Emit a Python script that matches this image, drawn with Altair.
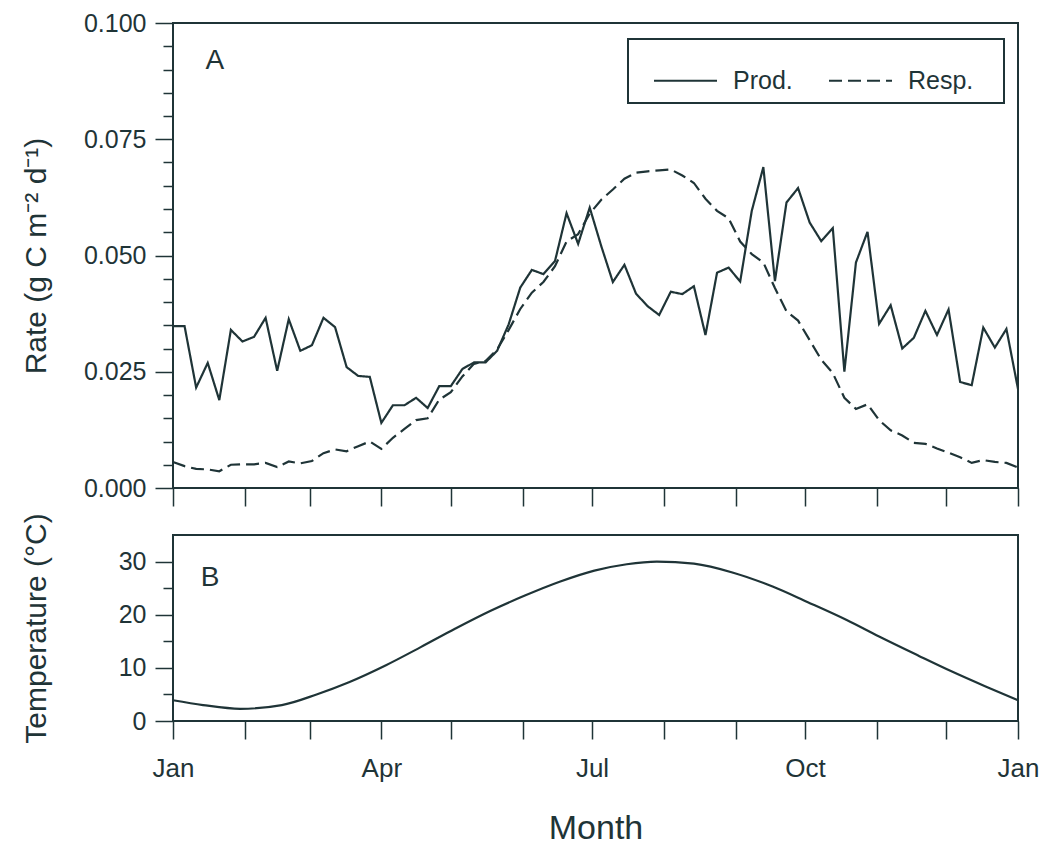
import altair as alt
import pandas as pd

INK = "#1f3437"
FONT = "Liberation Sans"

# Panel A: production and respiration, one value every 5 days (day 0 .. 365)
prod = [0.0348, 0.0348, 0.0216, 0.0269, 0.0189, 0.0340, 0.0315, 0.0325, 0.0366, 0.0252,
        0.0363, 0.0295, 0.0307, 0.0366, 0.0346, 0.0260, 0.0241, 0.0239, 0.0140, 0.0178,
        0.0178, 0.0194, 0.0172, 0.0219, 0.0219, 0.0256, 0.0270, 0.0270, 0.0295, 0.0352,
        0.0431, 0.0469, 0.0460, 0.0488, 0.0591, 0.0525, 0.0603, 0.0520, 0.0443, 0.0480,
        0.0418, 0.0391, 0.0372, 0.0422, 0.0417, 0.0434, 0.0329, 0.0463, 0.0474, 0.0444,
        0.0596, 0.0690, 0.0445, 0.0614, 0.0645, 0.0571, 0.0531, 0.0559, 0.0250, 0.0485,
        0.0551, 0.0353, 0.0393, 0.0300, 0.0323, 0.0381, 0.0329, 0.0384, 0.0228, 0.0221,
        0.0345, 0.0302, 0.0342, 0.0213]
resp = [0.0056, 0.0047, 0.0041, 0.0040, 0.0036, 0.0050, 0.0051, 0.0051, 0.0054, 0.0045,
        0.0057, 0.0053, 0.0058, 0.0075, 0.0083, 0.0079, 0.0090, 0.0100, 0.0084, 0.0108,
        0.0127, 0.0146, 0.0150, 0.0190, 0.0206, 0.0240, 0.0267, 0.0273, 0.0298, 0.0340,
        0.0385, 0.0420, 0.0443, 0.0477, 0.0530, 0.0546, 0.0590, 0.0620, 0.0642, 0.0665,
        0.0678, 0.0681, 0.0683, 0.0685, 0.0672, 0.0656, 0.0622, 0.0596, 0.0580, 0.0530,
        0.0503, 0.0485, 0.0430, 0.0380, 0.0360, 0.0318, 0.0276, 0.0247, 0.0194, 0.0170,
        0.0180, 0.0146, 0.0124, 0.0113, 0.0097, 0.0095, 0.0085, 0.0076, 0.0066, 0.0054,
        0.0060, 0.0056, 0.0054, 0.0044]
days = [5 * i for i in range(len(prod))]

# Panel B: temperature
temp_days = [0, 13, 29, 47, 62, 76, 92, 107, 122, 137, 152, 167, 182, 196, 209, 225,
             242, 259, 274, 291, 305, 322, 336, 351, 365]
temp_vals = [3.9, 3.0, 2.3, 3.0, 5.0, 7.3, 10.5, 13.9, 17.4, 20.7, 23.6, 26.2, 28.3,
             29.5, 30.0, 29.6, 27.9, 25.3, 22.4, 19.0, 15.9, 12.3, 9.4, 6.5, 3.9]

month_ticks = [0, 31, 59, 90, 120, 151, 181, 212, 243, 273, 304, 334, 365]
month_names = {0: "Jan", 90: "Apr", 181: "Jul", 273: "Oct", 365: "Jan"}

rate_ticks = [round(0.005 * i, 3) for i in range(21)]
temp_ticks = [0, 5, 10, 15, 20, 25, 30]

panel_labels_A = {"day": [14], "val": [0.0918], "txt": ["A"]}
panel_labels_B = {"day": [12], "val": [27.0], "txt": ["B"]}

df = pd.DataFrame({
    "day": days * 2,
    "rate": prod + resp,
    "series": ["Prod."] * len(prod) + ["Resp."] * len(resp),
})
tdf = pd.DataFrame({"day": temp_days, "temp": temp_vals})

W = 845
H_TOP = 465
H_BOT = 186

label_expr = " : ".join(
    f"datum.value == {k} ? '{v}'" for k, v in month_names.items()
) + " : ''"

x_scale = alt.Scale(domain=[0, 365], nice=False, zero=False)

x_axis_top = alt.Axis(values=month_ticks, tickCount=len(month_ticks), labels=False,
                      title=None, tickSize=18, tickWidth=1.5, tickColor=INK,
                      domain=False, grid=False)
x_axis_bot = alt.Axis(values=month_ticks, tickCount=len(month_ticks), labelExpr=label_expr,
                      title="Month", tickSize=18, tickWidth=1.5, tickColor=INK,
                      domain=False, grid=False, labelFlush=False, labelOverlap=False,
                      labelPadding=16, labelFontSize=26, titleFontSize=34, titlePadding=30)

y_axis_top = alt.Axis(
    values=rate_ticks, tickCount=len(rate_ticks),
    labelExpr="round(datum.value*1000) % 25 == 0 ? format(datum.value, '.3f') : ''",
    tickSize={"condition": {"test": "round(datum.value*1000) % 25 == 0", "value": 18}, "value": 10},
    title="Rate (g C m\u207b\u00b2 d\u207b\u00b9)",
    titleX=-122, titleY=H_TOP / 2,
    labelPadding=9, tickWidth=1.5, tickColor=INK, domain=False, grid=False,
    labelFontSize=25, titleFontSize=30, labelOverlap=False,
)
y_axis_bot = alt.Axis(
    values=temp_ticks, tickCount=len(temp_ticks),
    labelExpr="datum.value % 10 == 0 ? datum.label : ''",
    tickSize={"condition": {"test": "datum.value % 10 == 0", "value": 18}, "value": 10},
    title="Temperature (\u00b0C)",
    titleX=-122, titleY=H_BOT / 2,
    labelPadding=9, tickWidth=1.5, tickColor=INK, domain=False, grid=False,
    labelFontSize=25, titleFontSize=30, labelOverlap=False,
)

lines = alt.Chart(df).mark_line(strokeWidth=2.2, color=INK).encode(
    x=alt.X("day:Q", scale=x_scale, axis=x_axis_top),
    y=alt.Y("rate:Q", scale=alt.Scale(domain=[0, 0.1], nice=False), axis=y_axis_top),
    strokeDash=alt.StrokeDash(
        "series:N",
        scale=alt.Scale(domain=["Prod.", "Resp."], range=[[1, 0], [13, 6]]),
        legend=alt.Legend(
            orient="none", legendX=455, legendY=16, direction="horizontal", title=None,
            symbolType="stroke", symbolSize=3969, symbolStrokeWidth=2,
            symbolStrokeColor=INK, labelFontSize=25, labelFont=FONT, labelColor=INK,
            labelExpr="datum.label == 'Resp.' ? datum.label + '\u00a0\u00a0\u00a0\u200b' : datum.label",
            strokeColor=INK, fillColor="white", padding=9, symbolOffset=16,
            labelOffset=15, columnPadding=19,
        ),
    ),
)

text_a = alt.Chart(pd.DataFrame(panel_labels_A)).mark_text(
    align="left", baseline="middle", fontSize=28, font=FONT, color=INK
).encode(x=alt.X("day:Q", scale=x_scale), y=alt.Y("val:Q"), text="txt:N")

top = alt.layer(lines, text_a).properties(width=W, height=H_TOP)

temp_line = alt.Chart(tdf).mark_line(strokeWidth=2.2, color=INK, interpolate="monotone").encode(
    x=alt.X("day:Q", scale=x_scale, axis=x_axis_bot),
    y=alt.Y("temp:Q", scale=alt.Scale(domain=[0, 35], nice=False), axis=y_axis_bot),
)
text_b = alt.Chart(pd.DataFrame(panel_labels_B)).mark_text(
    align="left", baseline="middle", fontSize=28, font=FONT, color=INK
).encode(x=alt.X("day:Q", scale=x_scale), y=alt.Y("val:Q"), text="txt:N")

bottom = alt.layer(temp_line, text_b).properties(width=W, height=H_BOT)

chart = alt.vconcat(top, bottom, spacing=3).properties(
    padding={"left": 19, "top": 10, "right": 0, "bottom": 0},
    background="white",
).configure_view(
    stroke=INK, strokeWidth=2
).configure_axis(
    labelFont=FONT, titleFont=FONT, labelColor=INK, titleColor=INK,
    titleFontWeight="normal",
).configure_legend(
    strokeWidth=2
)

chart.save("out.html", embed_options={"renderer": "svg", "actions": False})
